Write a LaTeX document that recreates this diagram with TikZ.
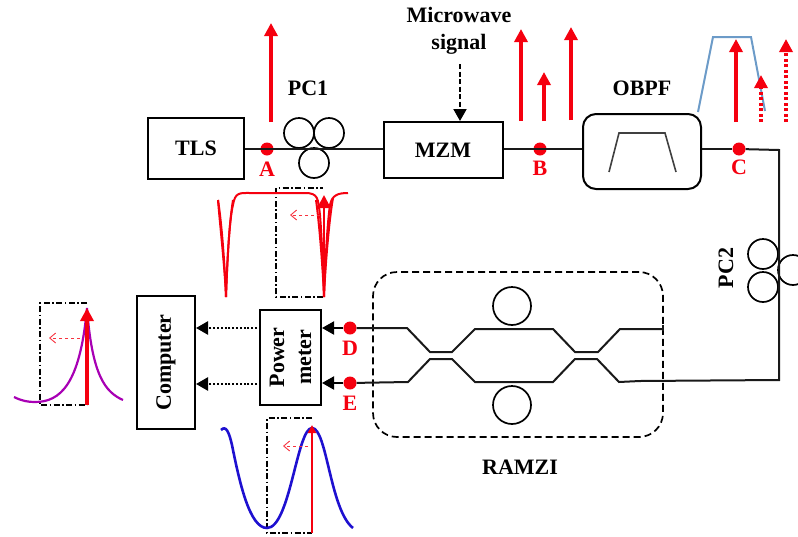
\documentclass[tikz,border=0pt]{standalone}
\usepackage{fontspec}
\setmainfont{Liberation Serif}
\usetikzlibrary{arrows.meta}
\definecolor{filterblue}{HTML}{6C9BC8}
\definecolor{peakpurple}{HTML}{A800B4}
\definecolor{peakblue}{HTML}{1E10D0}
\definecolor{sigred}{HTML}{F5000F}
\begin{document}
\begin{tikzpicture}[
                x=1pt,y=-1pt,
                box/.style={
                    draw=black,
                    line width=2pt,
                    rectangle,
                    inner sep=0pt,
                    align=center,
                    font=\fontsize{22}{24}\selectfont\bfseries
                },
                caption/.style={
                    inner sep=0pt,
                    align=center,
                    font=\fontsize{22}{27}\selectfont\bfseries
                },
                tap/.style={
                    circle,
                    fill=sigred,
                    minimum size=13pt,
                    inner sep=0pt
                },
                tapcaption/.style={
                    caption,
                    text=sigred
                },
                coil/.style={
                    draw=black,
                    line width=1.7pt,
                    circle,
                    inner sep=0pt
                },
                fibre/.style={
                    line width=2pt,
                    black!90
                },
                tone/.style={
                    draw=sigred,
                    line width=3.4pt,
                    -{Triangle[length=13pt,width=13pt]}
                },
                dimtone/.style={
                    tone,
                    dash pattern=on 3pt off 2.5pt
                },
                drift/.style={
                    draw=sigred!80,
                    line width=.9pt,
                    dashed,
                    -{Straight Barb[length=6pt,width=10pt]}
                },
                window/.style={
                    draw=black,
                    line width=1.3pt,
                    dash pattern=on 6pt off 2.5pt on 1.5pt off 2.5pt
                },
                arrow/.style={
                    line width=2pt,
                    -{Triangle[length=12pt,width=13pt]}
                }
            ]
                \useasboundingbox (0,0) rectangle (798,536);

                % top row
                \node[box,minimum width=96pt,minimum height=61pt] (tls) at (196,148.5) {TLS};
                \node[box,minimum width=119pt,minimum height=56pt] (mzm) at (443,150) {MZM};
                \node[box,rounded corners=13pt,minimum width=118pt,minimum height=75pt] (obpf) at (642,151.5) {};
                \node[tap] (ptA) at (267,149) {};
                \node[tap] (ptB) at (540,149) {};
                \node[tap] (ptC) at (739,149) {};
                \node[tapcaption] (labA) at (267,169) {A};
                \node[tapcaption] (labB) at (540,168) {B};
                \node[tapcaption] (labC) at (739,167) {C};
                \node[caption] (labPCa) at (308,88) {PC1};
                \node[caption] (labOBPF) at (642,88) {OBPF};
                \node[caption] (labMW) at (459,31) {Microwave\\signal};
                \node[coil,minimum size=30pt] (pcaL) at (299,133) {};
                \node[coil,minimum size=30pt] (pcaR) at (329,133) {};
                \node[coil,minimum size=30pt] (pcaB) at (314,163) {};

                % lower blocks
                \node[box,minimum width=58pt,minimum height=133pt] (computer) at (166,362.5) {};
                \node[rotate=90,caption] (labComputer) at (computer.center) {Computer};
                \node[box,minimum width=61pt,minimum height=95pt] (meter) at (290.5,357.5) {};
                \node[rotate=90,caption] (labMeter) at (meter.center) {Power\\meter};
                \node[tap] (ptD) at (350,328) {};
                \node[tap] (ptE) at (350,383) {};
                \node[tapcaption] (labD) at (350,348) {D};
                \node[tapcaption] (labE) at (350,403) {E};

                % RAMZI
                \node[draw=black,line width=1.7pt,dash pattern=on 7pt off 4pt,rounded corners=24pt,minimum width=290pt,minimum height=165pt] (ramzi) at (518,354.5) {};
                \node[caption] (labRAMZI) at (520,467) {RAMZI};
                \node[coil,minimum size=38pt] (ringT) at (512,306) {};
                \node[coil,minimum size=38pt] (ringB) at (512,405) {};

                % PC2
                \node[coil,minimum size=30pt] (pcbT) at (763,254) {};
                \node[coil,minimum size=30pt] (pcbB) at (763,287) {};
                \node[coil,minimum size=30pt] (pcbR) at (793,270) {};
                \node[rotate=90,caption] (labPCb) at (726,268) {PC2};

                % fibres
                \coordinate (corner) at (779,150);
                \coordinate (cornerB) at (779,380);
                \coordinate (endT) at (663,329);
                \coordinate (tickA) at (663,325);
                \coordinate (tickB) at (663,331);
                \draw[fibre] (tls.east |- ptA) -- (mzm.west |- ptA);
                \draw[fibre] (mzm.east |- ptB) -- (obpf.west |- ptB);
                \draw[fibre] (obpf.east |- ptC) -- (ptC);
                \draw[fibre] (ptC) -- (corner) -- (cornerB) -- (640,381) -- (619,382) -- (597,359) -- (575,359) -- (553,382) -- (475,382) -- (452,359) -- (430,359) -- (408,382) -- (ptE);
                \draw[fibre] (endT) -- (620,329) -- (598,352) -- (575,352) -- (553,329) -- (475,329) -- (452,352) -- (430,352) -- (407,328) -- (ptD);
                \draw[fibre] (tickA) -- (tickB);
                \draw[arrow] (ptD) -- (meter.east |- ptD);
                \draw[arrow] (ptE) -- (meter.east |- ptE);
                \draw[arrow,dash pattern=on 2pt off 1.8pt,line width=2.4pt] (257,328) -- (computer.east |- ptD);
                \draw[arrow,dash pattern=on 2pt off 1.8pt,line width=2.4pt] (257,384) -- (computer.east |- 0,384);
                \draw[arrow,dash pattern=on 5pt off 2.5pt] (460,64) -- (mzm.north -| 460,0);

                % filter shapes
                \draw[line width=1.6pt,black!75] (609,172) -- (619,133) -- (665,133) -- (676,172);
                \draw[filterblue,line width=2pt] (698,112) -- (713,37) -- (751,37) -- (765,111);

                % tones
                \draw[tone] (271,122) -- (271,23);
                \draw[tone] (521,121) -- (521,29);
                \draw[tone] (544,121) -- (544,72);
                \draw[tone] (571,120) -- (571,27);
                \draw[tone] (736,122) -- (736,39);
                \draw[dimtone] (761,122) -- (761,75);
                \draw[dimtone] (786,122) -- (786,39);

                % notch response
                \draw[window] (323,297) -- (276,297) -- (276,188) -- (323,188);
                \draw[sigred,line width=2pt] (218,200) .. controls (222,225) and (225,270) .. (226,297) .. controls (227,270) and (229,220) .. (233,205) .. controls (235,192) and (240,193) .. (250,193) -- (305,193) .. controls (318,193) and (318,198) .. (320,215) .. controls (322,240) and (323,270) .. (324,297) .. controls (325,270) and (327,225) .. (330,205) .. controls (332,195) and (338,193) .. (348,193);
                \draw[sigred,line width=2pt] (218,200) .. controls (220,225) and (225,270) .. (226,297) .. controls (227,265) and (229,225) .. (233,200);
                \draw[sigred,line width=2pt] (316,200) .. controls (319,220) and (323,270) .. (324,297) .. controls (325,270) and (329,220) .. (333,198);
                \draw[tone,line width=2.4pt] (324,297) -- (324,195);
                \draw[drift] (320,215) -- (290,215);

                % purple peak
                \draw[window] (87,303) -- (40,303) -- (40,405) -- (87,405);
                \draw[peakpurple,line width=2.2pt] (14,397) .. controls (22,401) and (28,402) .. (35,402) .. controls (60,402) and (80,385) .. (87,308) .. controls (92,375) and (105,392) .. (123,400);
                \draw[tone] (87,405) -- (87,308);
                \draw[drift] (80,338) -- (49,338);

                % blue peak
                \draw[window] (312,418) -- (267,418) -- (267,533) -- (312,533);
                \draw[peakblue,line width=2.6pt] (221,430) .. controls (226,425) and (229,432) .. (232,445) .. controls (240,485) and (250,528) .. (267,528) .. controls (290,528) and (297,428) .. (312,428) .. controls (327,428) and (330,510) .. (353,528);
                \draw[tone,line width=2pt,-{Triangle[length=8pt,width=8pt]}] (312,533) -- (312,425);
                \draw[drift] (308,446) -- (283,446);
        \end{tikzpicture}
\end{document}
